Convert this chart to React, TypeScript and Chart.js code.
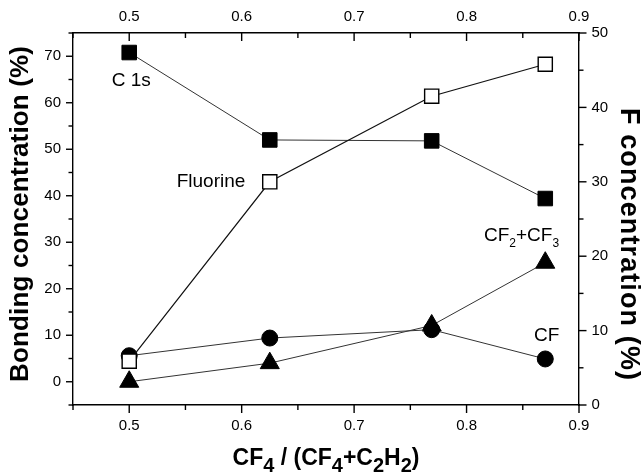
import React, { useEffect, useRef } from 'react';
import { Chart, registerables } from 'chart.js';

Chart.register(...registerables);

// ---- data ----
const xValues = [0.5, 0.625, 0.769, 0.87];
const c1s = [70.8, 52.0, 51.8, 39.4];
const fluorine = [5.9, 30.0, 41.5, 45.8];
const cf = [5.6, 9.4, 11.2, 4.9];
const cf2cf3 = [0, 4.0, 12.1, 25.6];

const xMajorTicks = [0.5, 0.6, 0.7, 0.8, 0.9];
const xMinorTicks = [0.45, 0.55, 0.65, 0.75, 0.85];
const leftMajorTicks = [0, 10, 20, 30, 40, 50, 60, 70];
const leftMinorTicks = [-5, 5, 15, 25, 35, 45, 55, 65, 75];
const rightMajorTicks = [0, 10, 20, 30, 40, 50];
const rightMinorTicks = [5, 15, 25, 35, 45];

const FONT = "'Liberation Sans', Arial, Helvetica, sans-serif";

type Seg = [string, boolean];

const bottomTitle: Seg[] = [
  ['CF', false], ['4', true], [' / (CF', false], ['4', true], ['+C', false], ['2', true], ['H', false], ['2', true], [')', false],
];
const cfLabel: Seg[] = [['CF', false], ['2', true], ['+CF', false], ['3', true]];

// annotation anchors in data coordinates (x axis / left y axis)
const annotations: { segs: Seg[]; x: number; y: number }[] = [
  { segs: [['C 1s', false]], x: 0.4844, y: 63.6 },
  { segs: [['Fluorine', false]], x: 0.5422, y: 41.9 },
  { segs: cfLabel, x: 0.8155, y: 30.3 },
  { segs: [['CF', false]], x: 0.86, y: 8.75 },
];

function drawSegs(ctx: CanvasRenderingContext2D, segs: Seg[], x: number, y: number, main: string, sub: string, subOff: number, align: 'left' | 'center') {
  let total = 0;
  for (const [t, s] of segs) {
    ctx.font = s ? sub : main;
    total += ctx.measureText(t).width;
  }
  let cx = align === 'center' ? x - total / 2 : x;
  ctx.textAlign = 'left';
  ctx.textBaseline = 'alphabetic';
  for (const [t, s] of segs) {
    ctx.font = s ? sub : main;
    ctx.fillText(t, cx, s ? y + subOff : y);
    cx += ctx.measureText(t).width;
  }
}

function rotatedTitle(ctx: CanvasRenderingContext2D, text: string, cx: number, cy: number, size: number, len: number, angle: number) {
  ctx.save();
  ctx.font = `bold ${size}px ${FONT}`;
  const w = ctx.measureText(text).width;
  const spacing = Math.max(0, (len - w) / (text.length - 1));
  ctx.translate(cx, cy);
  ctx.rotate(angle);
  (ctx as any).letterSpacing = `${spacing}px`;
  const w2 = ctx.measureText(text).width;
  ctx.textAlign = 'left';
  ctx.textBaseline = 'middle';
  ctx.fillText(text, -(w2 - spacing) / 2, 0);
  ctx.restore();
}

const decorPlugin = {
  id: 'decor',
  beforeDatasetsDraw(chart: any) {
    const { ctx, chartArea: a, scales } = chart;
    ctx.save();
    ctx.strokeStyle = '#000';
    ctx.lineWidth = 1.4;
    const line = (x1: number, y1: number, x2: number, y2: number) => {
      ctx.beginPath();
      ctx.moveTo(x1, y1);
      ctx.lineTo(x2, y2);
      ctx.stroke();
    };
    // bottom axis: outward
    for (const v of xMajorTicks) { const p = scales.x.getPixelForValue(v); line(p, a.bottom, p, a.bottom + 8); }
    for (const v of xMinorTicks) { const p = scales.x.getPixelForValue(v); line(p, a.bottom, p, a.bottom + 5); }
    // top axis: inward
    for (const v of xMajorTicks) { const p = scales.x2.getPixelForValue(v); line(p, a.top, p, a.top + 8); }
    for (const v of xMinorTicks) { const p = scales.x2.getPixelForValue(v); line(p, a.top, p, a.top + 5); }
    // left axis: outward
    for (const v of leftMajorTicks) { const p = scales.y.getPixelForValue(v); line(a.left - 7, p, a.left, p); }
    for (const v of leftMinorTicks) { const p = scales.y.getPixelForValue(v); line(a.left - 4.5, p, a.left, p); }
    // right axis: outward
    for (const v of rightMajorTicks) { const p = scales.y2.getPixelForValue(v); line(a.right, p, a.right + 7.5, p); }
    for (const v of rightMinorTicks) { const p = scales.y2.getPixelForValue(v); line(a.right, p, a.right + 4.5, p); }
    ctx.restore();
  },
  afterDraw(chart: any) {
    const { ctx, chartArea: a, scales } = chart;
    ctx.save();
    ctx.fillStyle = '#000';
    // annotations
    for (const an of annotations) {
      const px = scales.x.getPixelForValue(an.x);
      const py = scales.y.getPixelForValue(an.y);
      drawSegs(ctx, an.segs, px, py, `19px ${FONT}`, `12px ${FONT}`, 6, 'left');
    }
    // bottom title
    drawSegs(ctx, bottomTitle, (a.left + a.right) / 2, 465, `bold 23px ${FONT}`, `bold 20px ${FONT}`, 7, 'center');
    // left / right titles
    rotatedTitle(ctx, 'Bonding concentration (%)', 21, 214, 26, 336, -Math.PI / 2);
    rotatedTitle(ctx, 'F concentration (%)', 628, 244, 27, 272, Math.PI / 2);
    ctx.restore();
  },
};

const tickFont = { family: FONT, size: 15 };

function axisCommon() {
  return {
    grid: { display: true, drawOnChartArea: false, drawTicks: false },
    border: { display: true, color: '#000', width: 1.4 },
  };
}

export default function App() {
  const ref = useRef<HTMLCanvasElement | null>(null);

  useEffect(() => {
    if (!ref.current) return;
    const pts = (ys: number[]) => xValues.map((x, i) => ({ x, y: ys[i] }));
    const chart = new Chart(ref.current, {
      type: 'line',
      data: {
        datasets: [
          {
            label: 'Fluorine', data: pts(fluorine), xAxisID: 'x', yAxisID: 'y2',
            borderColor: '#111', borderWidth: 1.2, pointStyle: 'rect', pointRadius: 10,
            pointBackgroundColor: '#fff', pointBorderColor: '#000', pointBorderWidth: 1.4, order: 0,
          },
          {
            label: 'C 1s', data: pts(c1s), xAxisID: 'x', yAxisID: 'y',
            borderColor: '#333', borderWidth: 1, pointStyle: 'rect', pointRadius: 10.3,
            pointBackgroundColor: '#000', pointBorderColor: '#000', pointBorderWidth: 1, order: 1,
          },
          {
            label: 'CF', data: pts(cf), xAxisID: 'x', yAxisID: 'y',
            borderColor: '#333', borderWidth: 1, pointStyle: 'circle', pointRadius: 8,
            pointBackgroundColor: '#000', pointBorderColor: '#000', pointBorderWidth: 1, order: 2,
          },
          {
            label: 'CF2+CF3', data: pts(cf2cf3), xAxisID: 'x', yAxisID: 'y',
            borderColor: '#333', borderWidth: 1, pointStyle: 'triangle', pointRadius: 11,
            pointBackgroundColor: '#000', pointBorderColor: '#000', pointBorderWidth: 1, order: 3,
          },
        ],
      },
      options: {
        responsive: false,
        animation: false,
        events: [],
        layout: { padding: 0 },
        plugins: { legend: { display: false }, tooltip: { enabled: false } },
        elements: { line: { tension: 0 } },
        scales: {
          x: {
            type: 'linear', position: 'bottom', min: 0.45, max: 0.9,
            afterBuildTicks: (s: any) => { s.ticks = xMajorTicks.map((v) => ({ value: v })); },
            afterFit: (s: any) => { s.height = 69; },
            ticks: { font: tickFont, color: '#000', padding: 12, maxRotation: 0, autoSkip: false, callback: (v: any) => Number(v).toFixed(1) },
            ...axisCommon(),
          },
          x2: {
            type: 'linear', position: 'top', min: 0.45, max: 0.9,
            afterBuildTicks: (s: any) => { s.ticks = xMajorTicks.map((v) => ({ value: v })); },
            afterFit: (s: any) => { s.height = 33; },
            ticks: { font: tickFont, color: '#000', padding: 7, maxRotation: 0, autoSkip: false, callback: (v: any) => Number(v).toFixed(1) },
            ...axisCommon(),
          },
          y: {
            type: 'linear', position: 'left', min: -5, max: 75,
            afterBuildTicks: (s: any) => { s.ticks = leftMajorTicks.map((v) => ({ value: v })); },
            afterFit: (s: any) => { s.width = 73; },
            ticks: { font: tickFont, color: '#000', padding: 12, autoSkip: false, callback: (v: any) => String(v) },
            ...axisCommon(),
          },
          y2: {
            type: 'linear', position: 'right', min: 0, max: 50,
            afterBuildTicks: (s: any) => { s.ticks = rightMajorTicks.map((v) => ({ value: v })); },
            afterFit: (s: any) => { s.width = 64; },
            ticks: { font: tickFont, color: '#000', padding: 12.5, autoSkip: false, callback: (v: any) => String(v) },
            ...axisCommon(),
          },
        },
      },
      plugins: [decorPlugin],
    } as any);
    return () => chart.destroy();
  }, []);

  return (
    <div style={{ position: 'fixed', left: 0, top: 0, width: 643, height: 474, background: '#fff' }}>
      <canvas ref={ref} width={643} height={474} style={{ display: 'block' }} />
    </div>
  );
}
